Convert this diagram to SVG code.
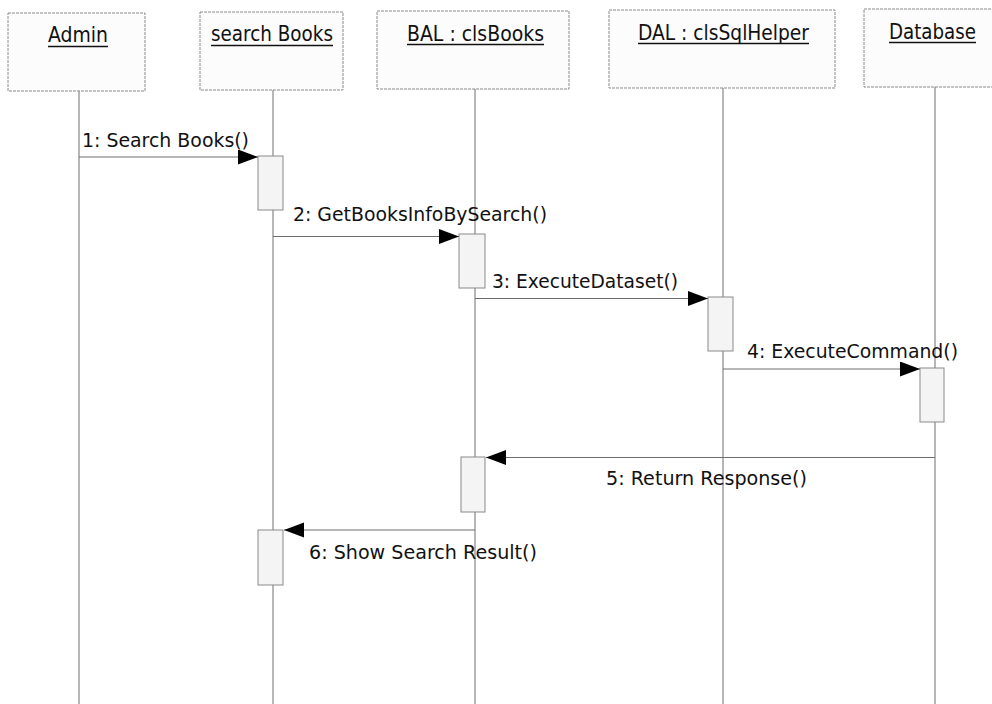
<svg xmlns="http://www.w3.org/2000/svg" width="992" height="704" viewBox="0 0 992 704">
  <defs>
    <style>
      .obj { fill: #fcfcfc; stroke: #8a8a8a; stroke-width: 1; stroke-dasharray: 3 1; }
      .life { stroke: #6e6e6e; stroke-width: 1; fill: none; }
      .act { fill: #f4f4f4; stroke: #8a8a8a; stroke-width: 1; }
      .msg { stroke: #6e6e6e; stroke-width: 1; fill: none; marker-end: url(#arrow); }
      .name { font-family: "DejaVu Sans", Verdana, sans-serif; font-size: 20.5px; fill: #111; text-anchor: middle; }
      .uline { stroke: #111; stroke-width: 1.4; }
      .lbl { font-family: "DejaVu Sans", Verdana, sans-serif; font-size: 20px; fill: #111; }
    </style>
    <marker id="arrow" markerUnits="userSpaceOnUse" markerWidth="21" markerHeight="16" refX="20" refY="7.5" orient="auto">
      <path d="M0,0 L20,7.5 L0,15 Z" fill="#000"/>
    </marker>
  </defs>

  <rect width="992" height="704" fill="#ffffff"/>

  <!-- lifelines -->
  <g id="lifelines">
    <line class="life" x1="79" y1="91" x2="79" y2="704"/>
    <line class="life" x1="273" y1="90" x2="273" y2="704"/>
    <line class="life" x1="475" y1="89" x2="475" y2="704"/>
    <line class="life" x1="723" y1="88" x2="723" y2="704"/>
    <line class="life" x1="935" y1="87" x2="935" y2="704"/>
  </g>

  <!-- objects -->
  <g id="admin">
    <rect class="obj" x="8" y="13" width="137" height="78"/>
    <text class="name" x="78" y="42" textLength="60" lengthAdjust="spacingAndGlyphs">Admin</text>
    <line class="uline" x1="48" y1="46.5" x2="108" y2="46.5"/>
  </g>
  <g id="searchBooks">
    <rect class="obj" x="200" y="12" width="143" height="78"/>
    <text class="name" x="272" y="41" textLength="122" lengthAdjust="spacingAndGlyphs">search Books</text>
    <line class="uline" x1="211" y1="45.5" x2="333" y2="45.5"/>
  </g>
  <g id="balBooks">
    <rect class="obj" x="377" y="11" width="192" height="78"/>
    <text class="name" x="475.5" y="40.5" textLength="137" lengthAdjust="spacingAndGlyphs">BAL : clsBooks</text>
    <line class="uline" x1="407" y1="44.5" x2="544" y2="44.5"/>
  </g>
  <g id="dalSqlHelper">
    <rect class="obj" x="609" y="10" width="226" height="78"/>
    <text class="name" x="723.5" y="39.5" textLength="171" lengthAdjust="spacingAndGlyphs">DAL : clsSqlHelper</text>
    <line class="uline" x1="638" y1="43.5" x2="809" y2="43.5"/>
  </g>
  <g id="database">
    <rect class="obj" x="864" y="9" width="134" height="78"/>
    <text class="name" x="932.5" y="38.5" textLength="87" lengthAdjust="spacingAndGlyphs">Database</text>
    <line class="uline" x1="889" y1="42.5" x2="976" y2="42.5"/>
  </g>

  <!-- activation bars -->
  <g id="activations">
    <rect class="act" x="258" y="156" width="25" height="54"/>
    <rect class="act" x="459" y="234" width="26" height="54"/>
    <rect class="act" x="708" y="297" width="25" height="54"/>
    <rect class="act" x="920" y="368" width="24" height="54"/>
    <rect class="act" x="461" y="457" width="24" height="55"/>
    <rect class="act" x="258" y="530" width="25" height="55"/>
  </g>

  <!-- messages -->
  <g id="connectors">
    <line class="msg" x1="79" y1="157" x2="258" y2="157"/>
    <line class="msg" x1="273" y1="236.5" x2="459" y2="236.5"/>
    <line class="msg" x1="475" y1="298.5" x2="708" y2="298.5"/>
    <line class="msg" x1="723" y1="369" x2="920" y2="369"/>
    <line class="msg" x1="935" y1="457.5" x2="486" y2="457.5"/>
    <line class="msg" x1="475" y1="530" x2="284" y2="530"/>
  </g>

  <g id="labels">
    <text class="lbl" x="82" y="147" textLength="167" lengthAdjust="spacingAndGlyphs">1: Search Books()</text>
    <text class="lbl" x="293" y="220.5" textLength="254" lengthAdjust="spacingAndGlyphs">2: GetBooksInfoBySearch()</text>
    <text class="lbl" x="492" y="288" textLength="186" lengthAdjust="spacingAndGlyphs">3: ExecuteDataset()</text>
    <text class="lbl" x="747" y="358" textLength="211" lengthAdjust="spacingAndGlyphs">4: ExecuteCommand()</text>
    <text class="lbl" x="606" y="485" textLength="201" lengthAdjust="spacingAndGlyphs">5: Return Response()</text>
    <text class="lbl" x="309" y="559" textLength="228" lengthAdjust="spacingAndGlyphs">6: Show Search Result()</text>
  </g>
</svg>
